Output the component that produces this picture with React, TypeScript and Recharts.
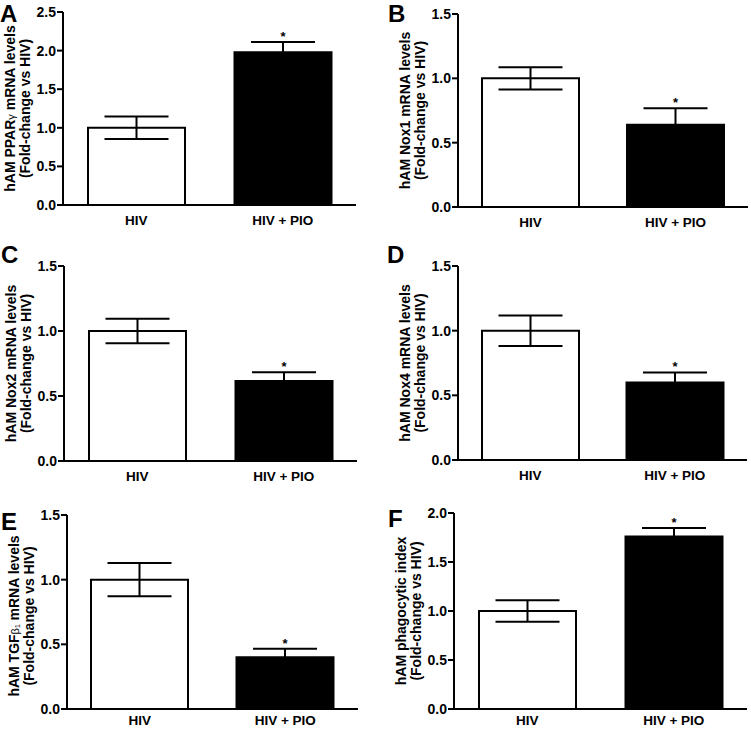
import { BarChart, Bar, Cell, XAxis, YAxis, ErrorBar, LabelList } from "recharts";

// groups on the x axis
const groups = ["HIV", "HIV + PIO"];

// one entry per panel, A..F
const panelLetters = ["A", "B", "C", "D", "E", "F"];
const yLabelFirst = [
  "hAM PPARγ mRNA levels",
  "hAM Nox1 mRNA levels",
  "hAM Nox2 mRNA levels",
  "hAM Nox4 mRNA levels",
  "hAM TGFβ₁ mRNA levels",
  "hAM phagocytic index",
];
const yLabelSecond = "(Fold-change vs HIV)";

const hivMeans = [1.0, 1.0, 1.0, 1.0, 1.0, 1.0];
const hivErrors = [0.145, 0.086, 0.095, 0.118, 0.128, 0.11];
const pioMeans = [1.98, 0.64, 0.615, 0.6, 0.4, 1.76];
const pioErrors = [0.133, 0.128, 0.068, 0.077, 0.066, 0.087];
const pioSignificant = [true, true, true, true, true, true];

const yMaxes = [2.5, 1.5, 1.5, 1.5, 1.5, 2.0];
const yTickSets = [
  [0, 0.5, 1.0, 1.5, 2.0, 2.5],
  [0, 0.5, 1.0, 1.5],
  [0, 0.5, 1.0, 1.5],
  [0, 0.5, 1.0, 1.5],
  [0, 0.5, 1.0, 1.5],
  [0, 0.5, 1.0, 1.5, 2.0],
];

// page layout (pixels) for each panel
const LAYOUT = [
  { left: 0, top: 0, w: 375, h: 240, axisX: 63, plotTop: 12, plotBottom: 205, plotRight: 356, xGap: 4, labelShift: 0, letterX: 0, letterY: 22 },
  { left: 375, top: 0, w: 376, h: 240, axisX: 458, plotTop: 14, plotBottom: 207, plotRight: 748, xGap: 4, labelShift: 0, letterX: 388, letterY: 22 },
  { left: 0, top: 240, w: 375, h: 244, axisX: 64, plotTop: 266, plotBottom: 461, plotRight: 357, xGap: 4, labelShift: 0, letterX: 1, letterY: 263 },
  { left: 375, top: 240, w: 376, h: 244, axisX: 458, plotTop: 266, plotBottom: 460, plotRight: 747, xGap: 4, labelShift: 0, letterX: 387, letterY: 263 },
  { left: 0, top: 484, w: 375, h: 245, axisX: 67, plotTop: 515, plotBottom: 709, plotRight: 358, xGap: 0, labelShift: 4, letterX: 1, letterY: 530 },
  { left: 375, top: 484, w: 376, h: 245, axisX: 454, plotTop: 513, plotBottom: 709, plotRight: 747, xGap: 0, labelShift: 0, letterX: 388, letterY: 527 },
];

const FONT = '"Liberation Sans", Arial, Helvetica, sans-serif';
const X_AXIS_H = 20;

function labelParts(s: string) {
  // greek letters and subscripts were set in a lighter, smaller face
  return s.split(/([γβ₁])/).filter(Boolean).map((p, k) =>
    /[γβ₁]/.test(p) ? (
      <tspan key={k} fontWeight="normal" fontSize={11}>{p}</tspan>
    ) : (
      <tspan key={k}>{p}</tspan>
    )
  );
}

function Panel({ i }: { i: number }) {
  const L = LAYOUT[i];
  const data = groups.map((g, k) => ({
    group: g,
    mean: k === 0 ? hivMeans[i] : pioMeans[i],
    err: k === 0 ? hivErrors[i] : pioErrors[i],
    star: k === 1 && pioSignificant[i] ? "*" : null,
  }));
  const margin = {
    top: L.plotTop - L.top,
    right: L.left + L.w - L.plotRight,
    left: 0,
    bottom: Math.max(0, L.top + L.h - L.plotBottom - X_AXIS_H),
  };
  const plotH = L.plotBottom - L.plotTop;
  const pxPerUnit = plotH / yMaxes[i];
  const axisLocal = L.axisX - L.left;
  const midY = L.plotTop - L.top + plotH / 2 + L.labelShift;

  const yLabel = () => (
    <g fontFamily={FONT} fontWeight="bold" fontSize={14} fill="#000">
      <text transform={`translate(${axisLocal - 48}, ${midY}) rotate(-90)`} textAnchor="middle">
        {labelParts(yLabelFirst[i])}
      </text>
      <text transform={`translate(${axisLocal - 33}, ${midY}) rotate(-90)`} textAnchor="middle">
        {yLabelSecond}
      </text>
    </g>
  );

  const star = (p: any) => {
    if (!p.value) return null;
    const d = data[p.index ?? 1];
    const cx = Number(p.x) + Number(p.width) / 2;
    const topY = Number(p.y) - d.err * pxPerUnit;
    return (
      <text x={cx} y={topY - 1} textAnchor="middle" fontFamily={FONT} fontWeight="bold" fontSize={13} fill="#000">
        *
      </text>
    );
  };

  return (
    <div style={{ position: "absolute", left: L.left, top: L.top }}>
      <BarChart width={L.w} height={L.h} data={data} margin={margin}>
        <XAxis
          dataKey="group"
          height={X_AXIS_H}
          axisLine={{ stroke: "#000", strokeWidth: 2 }}
          tickLine={false}
          tickSize={6}
          tickMargin={L.xGap}
          tick={{ fill: "#000", fontSize: 13.5, fontWeight: "bold", fontFamily: FONT }}
        />
        <YAxis
          width={axisLocal}
          domain={[0, yMaxes[i]]}
          ticks={yTickSets[i]}
          interval={0}
          tickFormatter={(v: number) => v.toFixed(1)}
          axisLine={{ stroke: "#000", strokeWidth: 2 }}
          tickLine={{ stroke: "#000", strokeWidth: 2 }}
          tickSize={6}
          tickMargin={1}
          tick={{ fill: "#000", fontSize: 14, fontWeight: "bold", fontFamily: FONT }}
          label={{ content: yLabel }}
        />
        <Bar dataKey="mean" barSize={97} stroke="#000" strokeWidth={2} isAnimationActive={false}>
          {data.map((d, k) => (
            <Cell key={d.group} fill={k === 0 ? "#fff" : "#000"} />
          ))}
          <ErrorBar dataKey="err" width={32} stroke="#000" strokeWidth={2} isAnimationActive={false} />
          <LabelList dataKey="star" content={star} />
        </Bar>
      </BarChart>
    </div>
  );
}

export default function App() {
  return (
    <div style={{ position: "absolute", left: 0, top: 0, width: 751, height: 729, background: "#fff" }}>
      {panelLetters.map((_, i) => (
        <Panel key={i} i={i} />
      ))}
      <svg width={751} height={729} style={{ position: "absolute", left: 0, top: 0, pointerEvents: "none" }}>
        {panelLetters.map((letter, i) => (
          <text key={letter} x={LAYOUT[i].letterX} y={LAYOUT[i].letterY} fontFamily={FONT} fontWeight="bold" fontSize={24} fill="#000">
            {letter}
          </text>
        ))}
      </svg>
    </div>
  );
}
